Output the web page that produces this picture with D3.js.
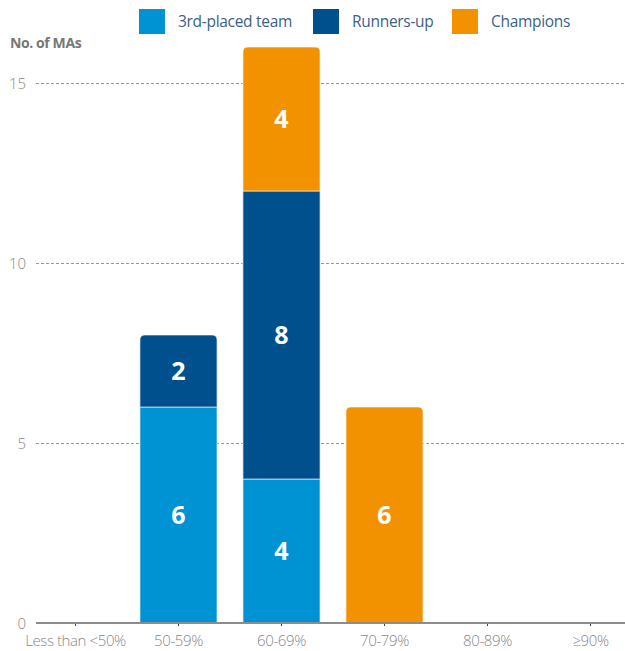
<!DOCTYPE html>
<html><head><meta charset="utf-8">
<script src="https://cdn.jsdelivr.net/npm/d3@7"></script>
<style>body{margin:0;background:#fff;} svg{display:block;font-family:"Open Sans",sans-serif;}</style>
</head><body>
<svg id="c" width="625" height="651"></svg>
<script>
const categories = ["Less than <50%","50-59%","60-69%","70-79%","80-89%","\u226590%"];
const seriesNames = ["3rd-placed team","Runners-up","Champions"];
const thirdPlaced = [0,6,4,0,0,0];
const runnersUp = [0,2,8,0,0,0];
const champions = [0,0,4,6,0,0];
const yTicks = [0,5,10,15];
const colors = ["#0093D3","#00508E","#F29200"];

const svg = d3.select("#c");
const x = d3.scaleBand().domain(categories).range([24,642]).paddingInner(0.25).paddingOuter(0.125);
const y = d3.scaleLinear().domain([0,15]).range([623,83]);

const rows = categories.map((c,i)=>({cat:c, s0:thirdPlaced[i], s1:runnersUp[i], s2:champions[i]}));
const stack = d3.stack().keys(["s0","s1","s2"])(rows);

// gridlines
svg.append("g").selectAll("line").data(yTicks.filter(d=>d>0)).join("line")
  .attr("x1",36).attr("x2",625).attr("y1",d=>y(d)+0.5).attr("y2",d=>y(d)+0.5)
  .attr("stroke","#999").attr("stroke-width",1).attr("stroke-dasharray","3,2");

// y tick labels
svg.append("g").selectAll("text").data(yTicks).join("text")
  .attr("x",26).attr("y",d=>y(d)+5.5).attr("text-anchor","end")
  .attr("font-size",15).attr("font-weight",300).attr("fill","#888").text(d=>d);

// y title
svg.append("text").attr("x",10).attr("y",48).attr("font-size",14).attr("font-weight","bold")
  .attr("fill","#777").attr("letter-spacing","-0.4").text("No. of MAs");

// determine top segment per category
const topKey = rows.map((r,i)=>{let k=-1; stack.forEach((s,si)=>{if(s[i][1]>s[i][0]) k=si;}); return k;});

function segPath(x0,w,yt,yb,rounded){
  const r = rounded?5:0;
  return `M${x0},${yb}V${yt+r}` + (r?`Q${x0},${yt} ${x0+r},${yt}`:"") +
    `H${x0+w-r}` + (r?`Q${x0+w},${yt} ${x0+w},${yt+r}`:"") + `V${yb}Z`;
}

const bw = x.bandwidth();
stack.forEach((s,si)=>{
  const g = svg.append("g");
  s.forEach((d,i)=>{
    if(d[1]<=d[0]) return;
    const x0 = x(categories[i]);
    g.append("path").attr("d",segPath(x0,bw,y(d[1]),y(d[0]),topKey[i]===si))
      .attr("fill",colors[si]).attr("stroke","rgba(255,255,255,0.6)").attr("stroke-width",1.2);
    g.append("text").attr("x",x0+bw/2).attr("y",(y(d[0])+y(d[1]))/2+9)
      .attr("text-anchor","middle").attr("font-size",25).attr("font-weight","bold")
      .attr("fill","#fff").text(d[1]-d[0]);
  });
});

// x axis line
svg.append("line").attr("x1",36).attr("x2",625).attr("y1",623).attr("y2",623)
  .attr("stroke","#8c8c8c").attr("stroke-width",2);
svg.append("g").selectAll("line").data(categories).join("line")
  .attr("x1",d=>x(d)+bw/2).attr("x2",d=>x(d)+bw/2).attr("y1",624).attr("y2",626)
  .attr("stroke","#444").attr("stroke-width",1);
svg.append("g").selectAll("text").data(categories).join("text")
  .attr("x",d=>x(d)+bw/2).attr("y",646).attr("text-anchor","middle")
  .attr("font-size",15).attr("font-weight",300).attr("fill","#888").attr("letter-spacing","-0.4").text(d=>d);

// legend
const legX = [139,313,452];
const lg = svg.append("g");
seriesNames.forEach((n,i)=>{
  lg.append("rect").attr("x",legX[i]).attr("y",9).attr("width",26).attr("height",25).attr("fill",colors[i]);
  lg.append("text").attr("x",legX[i]+39).attr("y",27).attr("font-size",15.5)
    .attr("fill","#3a5f8c").attr("letter-spacing","-0.3").text(n);
});
</script>
</body></html>
